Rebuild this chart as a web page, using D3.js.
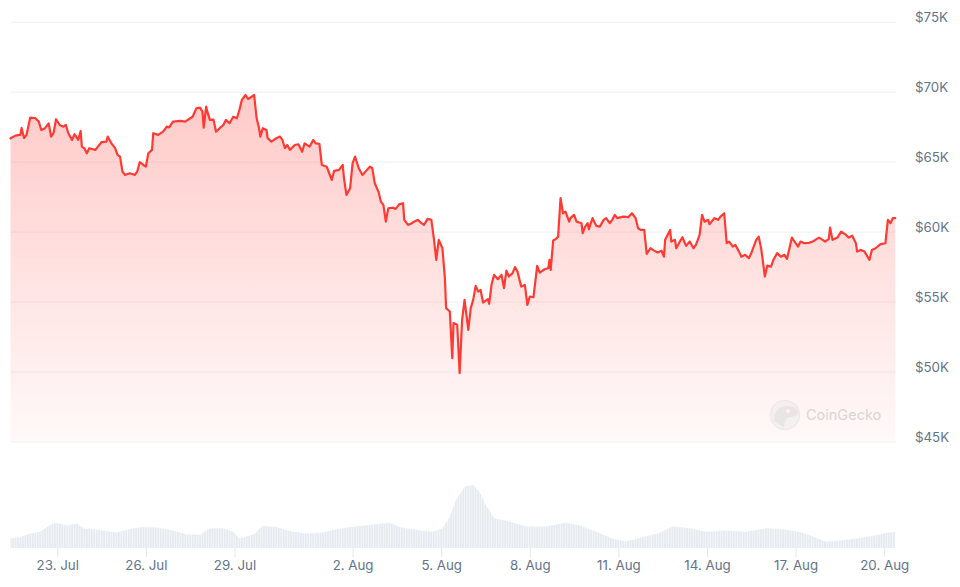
<!DOCTYPE html>
<html>
<head>
<meta charset="utf-8">
<script src="https://cdn.jsdelivr.net/npm/d3@7"></script>
<style>
  html, body { margin: 0; background: #fff; }
  svg { display: block; font-family: Inter, "Noto Sans", sans-serif; }
</style>
</head>
<body>
<svg id="chart" width="960" height="587"></svg>
<script>
// Hours since 21 Jul 2024 10:00 UTC
const priceHours = [0,4,8,9,11,13,16,20,23,25,28,31,33,35,37,40,43,45,47,50,52,55,57,58,60,62,64,69,71,74,78,79,82,85,87,89,91,93,97,101,103,105,108,110,112,115,116,120,124,127,129,132,138,142,146,148,151,154,156,157,159,160,162,165,167,170,173,175,178,181,184,186,188,191,193,196,198,200,202,203,205,208,209,212,216,219,221,223,225,227,231,234,235,237,239,243,246,248,251,253,257,259,261,263,267,270,271,273,276,278,280,283,286,289,292,294,296,299,301,303,305,307,311,313,316,319,320,323,326,328,331,334,336,339,342,344,346,348,351,353,354,357,359,360,363,365,367,369,372,374,376,378,380,382,384,388,389,391,393,396,399,401,403,405,408,410,412,415,418,420,422,425,428,430,434,437,438,439,441,443,445,447,449,451,454,455,458,460,464,465,467,469,470,473,476,479,482,484,487,489,491,493,498,502,505,508,510,512,515,517,520,523,526,529,531,532,534,536,537,540,541,544,546,549,552,555,557,560,562,564,567,568,572,575,577,580,582,584,587,589,592,594,597,600,602,606,608,610,612,613,615,618,620,623,626,629,631,633,635,638,640,642,645,649,652,654,657,660,662,665,666,668,672,675,679,681,684,687,688,691,694,698,700,703,707,711,713,715,717,719];
const prices = [66670,66860,66910,67410,66690,66910,68140,68120,67860,67260,67390,67740,66790,67050,68030,67620,67500,67620,67030,66550,66960,66550,67190,66070,65960,65600,65960,65840,66070,66390,66430,66790,66310,65960,65480,65360,64290,64050,64170,64050,64290,64960,64760,64640,65600,65840,67030,66910,67140,67500,67450,67860,67910,67860,68100,68210,68810,68860,68570,67430,68930,68570,67980,68000,67140,67390,67620,67980,67740,68210,68100,68690,69410,69760,69480,69640,69760,68100,67390,66790,67390,67260,66670,66430,66670,66790,66550,65960,66190,65840,66190,66240,66070,65710,66310,66070,66550,66310,66280,64760,64640,64170,63690,64340,64410,64760,63810,62620,63100,64890,65360,64530,64050,64340,64640,64530,63460,62860,62140,61910,60710,61670,61710,61620,61960,62030,60840,60480,60600,60710,60840,60600,60480,60910,60840,59530,57980,59410,58810,56670,54530,54290,50960,53460,53340,49890,53690,55120,52980,54530,55120,56120,55710,55840,54930,55170,54840,56260,56910,56600,56910,55960,57210,56790,57030,57460,57140,56070,56190,54760,55360,55310,57550,57070,57310,57380,57980,57260,59360,59460,59640,62390,61310,61430,60710,60960,61190,60710,60600,59890,60360,60600,60170,60960,60410,60360,60840,60960,60600,60840,61190,60960,61070,61030,61310,60960,60240,60120,60120,58410,58810,58640,58500,58640,58210,59410,59760,60120,59290,59410,58810,59290,59600,58980,59290,58810,59050,59760,61190,60710,60840,60530,60960,60840,61070,61310,59170,59290,58930,59050,58570,58210,58340,58100,58460,59410,59640,58810,57500,56790,57570,57500,57980,58460,58210,58340,58050,58810,59570,59170,58930,59290,59170,59200,59290,59410,59570,59410,59290,59480,60290,59410,59570,60000,59760,59570,59710,59170,58570,58690,58570,57980,58690,58810,59100,59170,60840,60600,60960,60960];

// 24h volume, billions USD
const volHours = [0,8,16,24,32,36,46,54,59,73,86,100,108,119,132,143,154,162,173,181,186,197,205,216,227,240,254,262,276,289,308,316,330,343,351,357,362,369,376,381,387,393,405,419,435,451,462,476,489,500,516,527,538,552,565,581,597,614,630,641,652,662,673,687,700,711,719];
const volumes = [16,18,24,27,38,42,38,41,33,30,26,33,35,34,29,23,22,33,33,27,16,22,37,35,28,24,26,30,35,38,42,35,30,27,33,52,80,102,105,94,69,50,44,36,36,42,38,27,16,11,19,25,36,33,27,29,27,33,31,27,19,11,12,16,20,25,27];

const yTicks = [45000, 50000, 55000, 60000, 65000, 70000, 75000];
const xTickDays = ['2024-07-23','2024-07-26','2024-07-29','2024-08-02','2024-08-05','2024-08-08','2024-08-11','2024-08-14','2024-08-17','2024-08-20'];

const t0 = Date.UTC(2024, 6, 21, 10);
const H = 3600e3;
const priceData = priceHours.map((h, i) => ({ t: new Date(t0 + h * H), v: prices[i] }));
const volData = volHours.map((h, i) => ({ t: new Date(t0 + h * H), v: volumes[i] }));

const svg = d3.select('#chart');
const red = '#ff3a33';

const x = d3.scaleUtc().domain([new Date(t0), new Date(t0 + 720 * H)]).range([10.5, 896.5]);
const y = d3.scaleLinear().domain([45000, 75000]).range([441.5, 21.7]);
const yv = d3.scaleLinear().domain([0, 130]).range([548, 470]);

const defs = svg.append('defs');
const grad = defs.append('linearGradient').attr('id', 'fillGrad')
  .attr('gradientUnits', 'userSpaceOnUse')
  .attr('x1', 0).attr('x2', 0).attr('y1', y(70000)).attr('y2', y(45000));
grad.append('stop').attr('offset', 0).attr('stop-color', red).attr('stop-opacity', 0.27);
grad.append('stop').attr('offset', 1).attr('stop-color', red).attr('stop-opacity', 0.03);

// thin vertical stripes for the volume bars
const pat = defs.append('pattern').attr('id', 'volStripe')
  .attr('patternUnits', 'userSpaceOnUse').attr('width', 2.46).attr('height', 20);
pat.append('rect').attr('width', 2.46).attr('height', 20).attr('fill', '#f4f6f9');
pat.append('rect').attr('width', 1.5).attr('height', 20).attr('fill', '#e6eaf0');

// Gridlines
svg.append('g')
  .attr('transform', 'translate(11,0)')
  .call(d3.axisRight(y).tickValues(yTicks).tickSize(885).tickFormat(''))
  .call(g => g.select('.domain').remove())
  .call(g => g.selectAll('line').attr('stroke', '#eef0f3'));

// Y labels
svg.append('g').selectAll('text').data(yTicks).join('text')
  .attr('x', 915).attr('y', d => y(d) + 0.5)
  .attr('font-size', 13.3).attr('fill', '#64748b')
  .text(d => '$' + d / 1000 + 'K');

// Volume
svg.append('path')
  .datum(volData)
  .attr('fill', 'url(#volStripe)')
  .attr('d', d3.area().x(d => x(d.t)).y0(yv(0)).y1(d => yv(d.v)));

// Price area + line
svg.append('path')
  .datum(priceData)
  .attr('fill', 'url(#fillGrad)')
  .attr('d', d3.area().x(d => x(d.t)).y0(y(45000)).y1(d => y(d.v)));

svg.append('path')
  .datum(priceData)
  .attr('fill', 'none').attr('stroke', red).attr('stroke-width', 2.2)
  .attr('stroke-linejoin', 'round').attr('stroke-linecap', 'round')
  .attr('d', d3.line().x(d => x(d.t)).y(d => y(d.v)));

// Watermark
const wm = svg.append('g').attr('opacity', 0.5);
wm.append('circle').attr('cx', 785).attr('cy', 415).attr('r', 14.5)
  .attr('fill', '#ececec').attr('stroke', '#dcdcdc').attr('stroke-width', 1.2);
wm.append('path')
  .attr('d', 'M774,421 C774,410 780,406 788,406 C794,406 798,409 798,413 C798,416 794,417 790,417 C786,418 784,421 784,428')
  .attr('fill', '#d6d6d6');
wm.append('circle').attr('cx', 788).attr('cy', 411).attr('r', 2).attr('fill', '#f7f7f7');
wm.append('text').attr('x', 806).attr('y', 419.5)
  .attr('font-size', 14.5).attr('fill', '#b4b4b4').text('CoinGecko');

// X axis
const fmt = d3.utcFormat('%-d. %b');
const xg = svg.append('g').attr('transform', 'translate(0,548)')
  .call(d3.axisBottom(x).tickValues(xTickDays.map(s => new Date(s + 'T00:00:00Z'))).tickSize(9).tickPadding(4).tickFormat(fmt));
xg.select('.domain').remove();
xg.selectAll('line').attr('stroke', '#e3e7ec');
xg.selectAll('text').attr('font-size', 13.3).attr('fill', '#64748b').attr('font-family', 'Inter, sans-serif');
</script>
</body>
</html>
